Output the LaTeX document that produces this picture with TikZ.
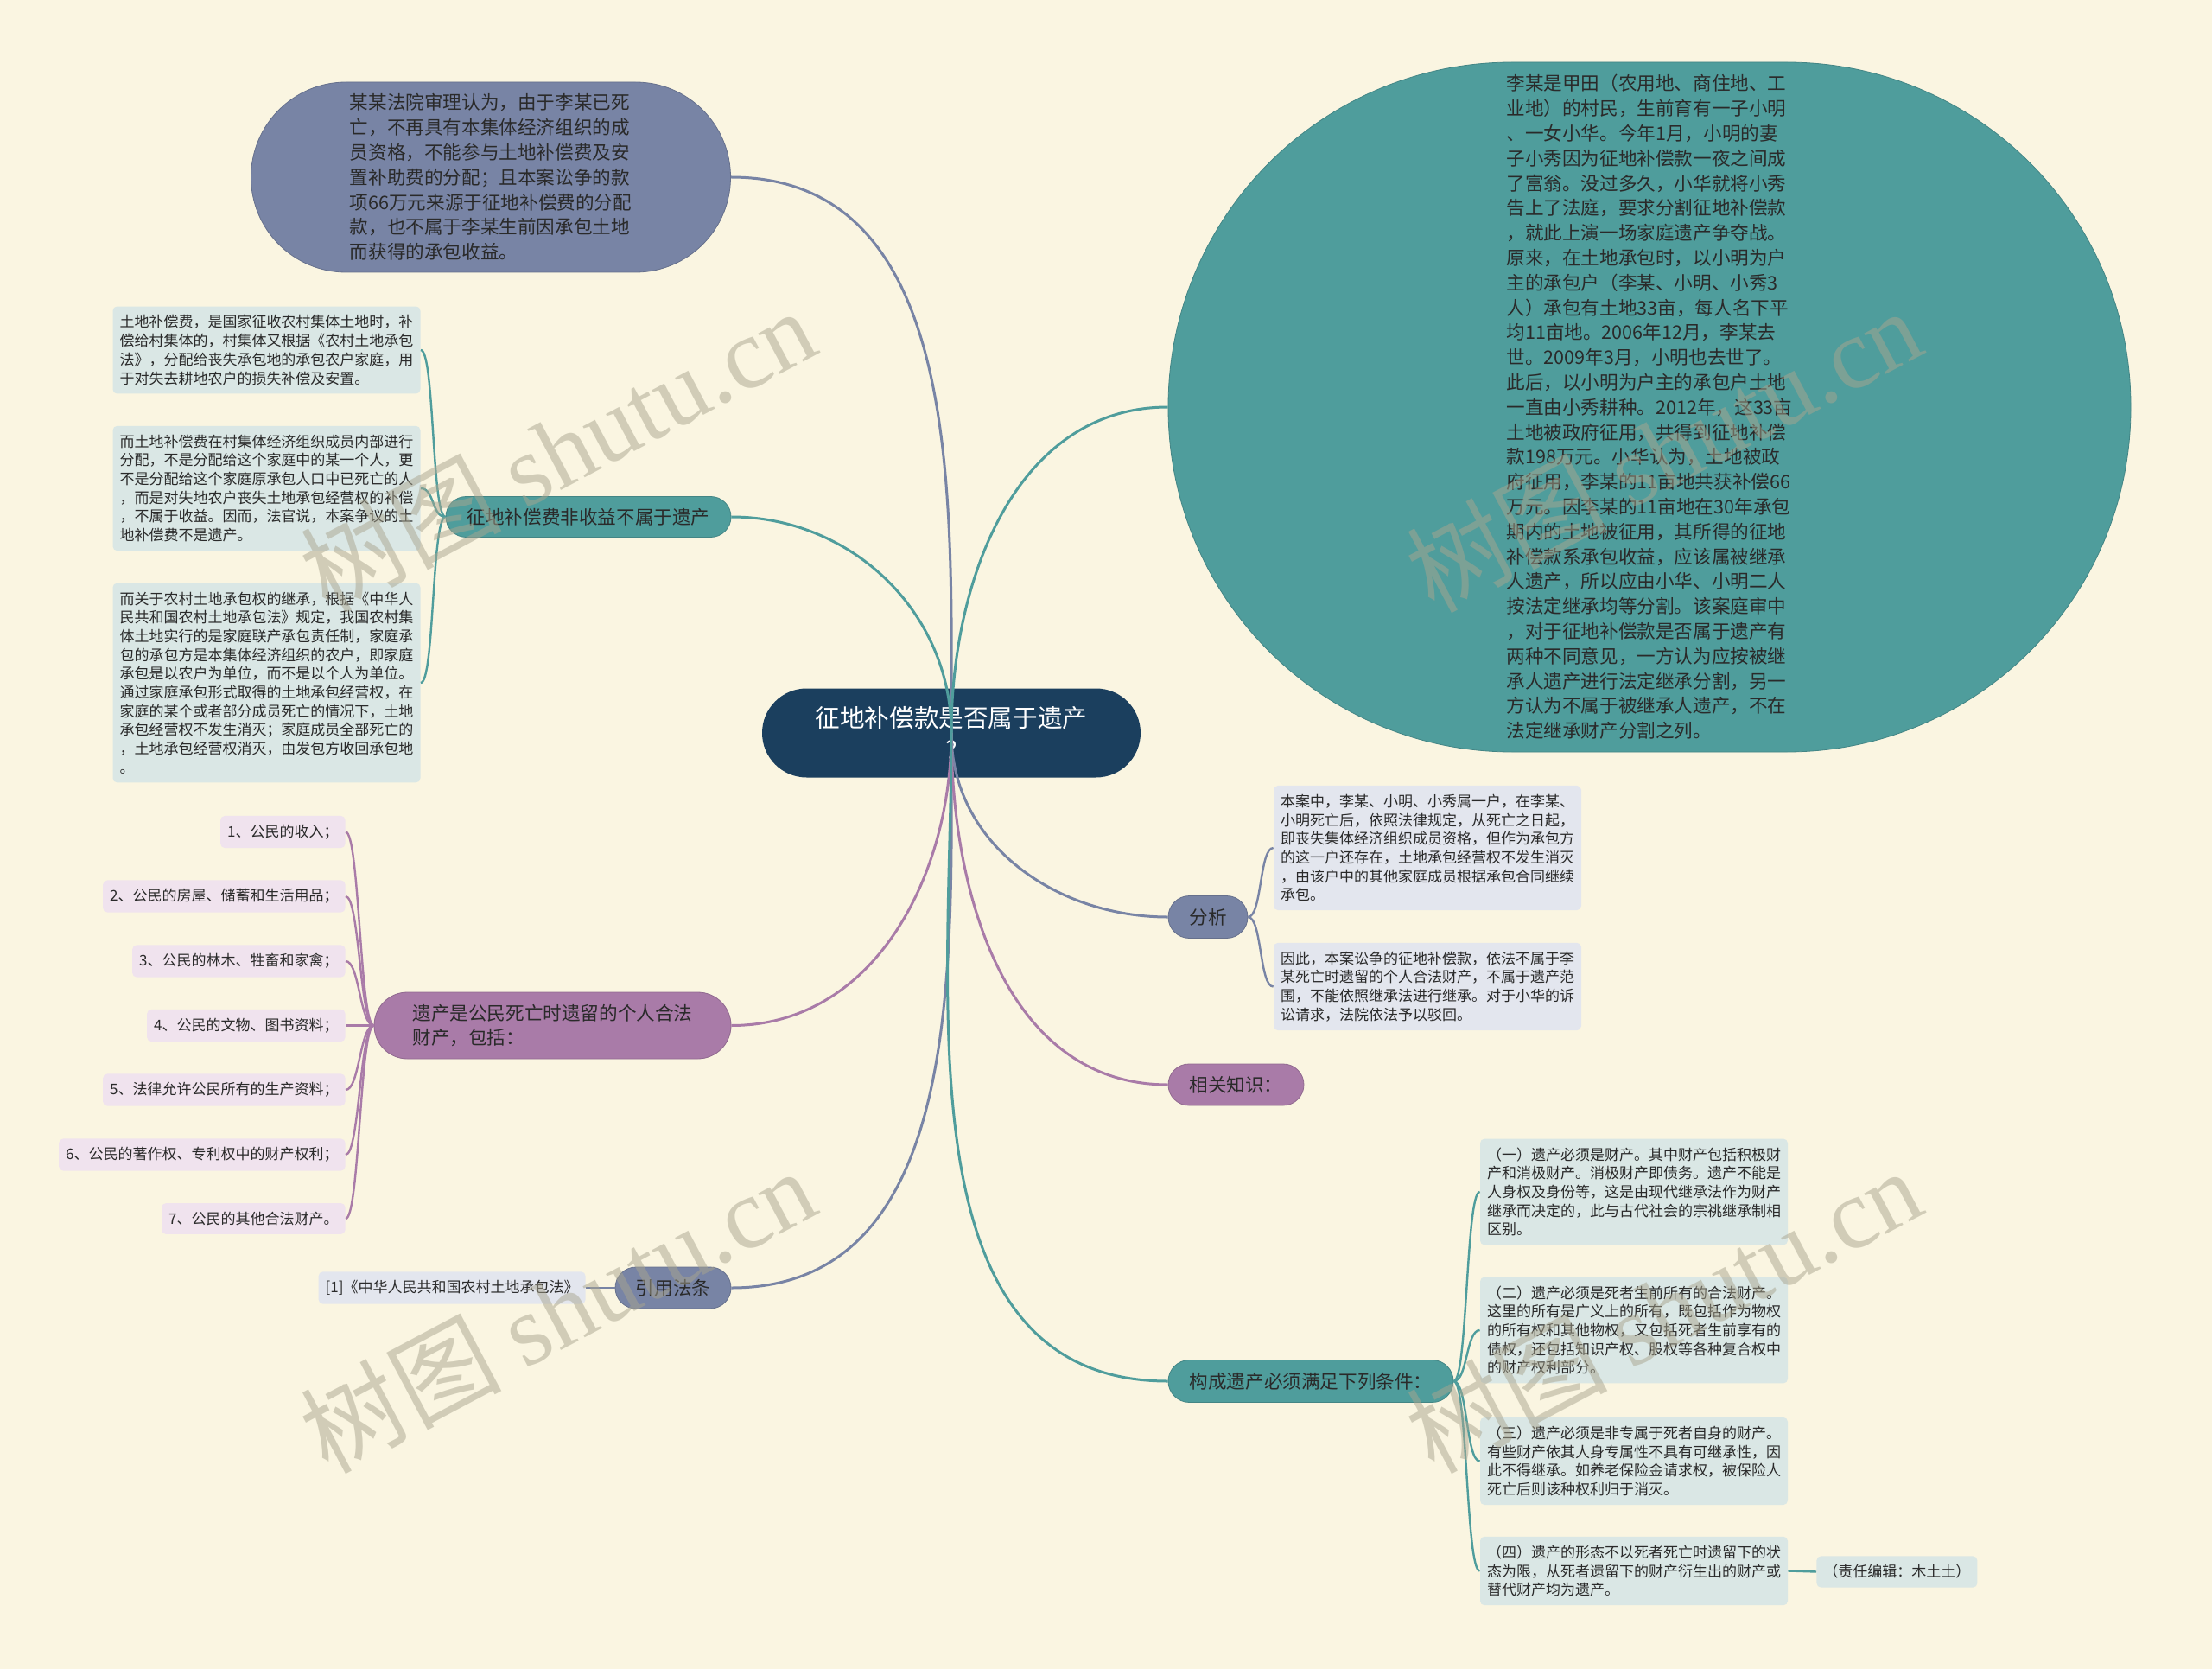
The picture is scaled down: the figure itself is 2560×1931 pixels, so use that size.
\documentclass[tikz,border=0pt]{standalone}
\usepackage{fontspec}
\setmainfont{Noto Sans CJK SC}
\newfontfamily\wmlatin{Liberation Serif}
\usepackage{tikz}
\usetikzlibrary{shapes.misc, positioning}

\definecolor{paper}{HTML}{FAF5E1}
\definecolor{mapnavy}{HTML}{1B3F5E}
\definecolor{mapteal}{HTML}{4F9D9C}
\definecolor{mapslate}{HTML}{7884A5}
\definecolor{mapplum}{HTML}{A97BA8}
\definecolor{leafteal}{HTML}{DAE7E5}
\definecolor{leafslate}{HTML}{E3E6EE}
\definecolor{leafplum}{HTML}{F0E3EE}
\definecolor{inkdark}{HTML}{2A2A2A}
\definecolor{wmgray}{HTML}{A9A58F}

\newcommand{\topicfont}{\fontsize{14.3pt}{18.8pt}\selectfont}
\newcommand{\branchfont}{\fontsize{10.8pt}{14.4pt}\selectfont}
\newcommand{\leaffont}{\fontsize{8.5pt}{10.85pt}\selectfont}

\begin{document}
\begin{tikzpicture}[x=0.5pt,y=0.5pt,
    pill/.style={rounded rectangle, inner sep=0pt, font=\branchfont, text=inkdark, line width=0.4pt},
    tealpill/.style={pill, fill=mapteal, draw=mapteal!85!black},
    slatepill/.style={pill, fill=mapslate, draw=mapslate!85!black},
    plumpill/.style={pill, fill=mapplum, draw=mapplum!85!black},
    leaf/.style={rectangle, rounded corners=2.5pt, inner xsep=4pt, inner ysep=5pt, font=\leaffont, text=inkdark, align=left},
    trunk/.style={line width=1.5pt},
    twigL/.style={out=180, in=0, distance=8pt},
    twigR/.style={out=0, in=180, distance=8pt},
    watermark/.style={font=\fontsize{58pt}{58pt}\selectfont, text=wmgray, opacity=0.5, rotate=28}]

        % 1. Paper
        \useasboundingbox (0,0) rectangle (2560,-1931);
        \fill[paper] (0,0) rectangle (2560,-1931);

        % 2. Central topic
        \node[rounded rectangle, fill=mapnavy, text=white, font=\topicfont, align=center,
              minimum width=219pt, minimum height=51.5pt, inner sep=0pt] (ctr) at (1101,-848)
              {征地补偿款是否属于遗产\\?};

        % 3. Upper nodes
        \node[slatepill, align=left, minimum width=277.5pt, minimum height=110pt] (court) at (568,-205) {%
            某某法院审理认为，由于李某已死\\
            亡，不再具有本集体经济组织的成\\
            员资格，不能参与土地补偿费及安\\
            置补助费的分配；且本案讼争的款\\
            项66万元来源于征地补偿费的分配\\
            款，也不属于李某生前因承包土地\\
            而获得的承包收益。};

        \node[rectangle, rounded corners=199pt, fill=mapteal, draw=mapteal!85!black, line width=0.4pt,
              font=\branchfont, text=inkdark, align=left, inner sep=0pt,
              minimum width=557pt, minimum height=399pt] (story) at (1909,-471) {%
            李某是甲田（农用地、商住地、工\\
            业地）的村民，生前育有一子小明\\
            、一女小华。今年1月，小明的妻\\
            子小秀因为征地补偿款一夜之间成\\
            了富翁。没过多久，小华就将小秀\\
            告上了法庭，要求分割征地补偿款\\
            ，就此上演一场家庭遗产争夺战。\\
            原来，在土地承包时，以小明为户\\
            主的承包户（李某、小明、小秀3\\
            人）承包有土地33亩，每人名下平\\
            均11亩地。2006年12月，李某去\\
            世。2009年3月，小明也去世了。\\
            此后，以小明为户主的承包户土地\\
            一直由小秀耕种。2012年，这33亩\\
            土地被政府征用，共得到征地补偿\\
            款198万元。小华认为，土地被政\\
            府征用，李某的11亩地共获补偿66\\
            万元。因李某的11亩地在30年承包\\
            期内的土地被征用，其所得的征地\\
            补偿款系承包收益，应该属被继承\\
            人遗产，所以应由小华、小明二人\\
            按法定继承均等分割。该案庭审中\\
            ，对于征地补偿款是否属于遗产有\\
            两种不同意见，一方认为应按被继\\
            承人遗产进行法定继承分割，另一\\
            方认为不属于被继承人遗产，不在\\
            法定继承财产分割之列。};

        % 4. Branch nodes
        \node[tealpill, minimum width=165pt, minimum height=23.5pt] (compfee) at (681,-598) {征地补偿费非收益不属于遗产};
        \node[plumpill, align=left, minimum width=206.5pt, minimum height=38.5pt] (estate) at (639.5,-1186.5)
            {遗产是公民死亡时遗留的个人合法\\财产，包括：};
        \node[slatepill, minimum width=67pt, minimum height=24pt] (lawref) at (779,-1490) {引用法条};
        \node[slatepill, minimum width=46pt, minimum height=24.5pt] (analysis) at (1398,-1061) {分析};
        \node[plumpill, minimum width=78.5pt, minimum height=24pt] (related) at (1430.5,-1255) {相关知识：};
        \node[tealpill, minimum width=165pt, minimum height=24.5pt] (conditions) at (1517,-1598) {构成遗产必须满足下列条件：};

        % 5. Leaves of the compensation branch
        \node[leaf, fill=leafteal, text width=170pt] (fee1) at (308.5,-405) {%
            土地补偿费，是国家征收农村集体土地时，补\\
            偿给村集体的，村集体又根据《农村土地承包\\
            法》，分配给丧失承包地的承包农户家庭，用\\
            于对失去耕地农户的损失补偿及安置。};
        \node[leaf, fill=leafteal, text width=170pt] (fee2) at (308.5,-565) {%
            而土地补偿费在村集体经济组织成员内部进行\\
            分配，不是分配给这个家庭中的某一个人，更\\
            不是分配给这个家庭原承包人口中已死亡的人\\
            ，而是对失地农户丧失土地承包经营权的补偿\\
            ，不属于收益。因而，法官说，本案争议的土\\
            地补偿费不是遗产。};
        \node[leaf, fill=leafteal, text width=170pt] (fee3) at (308.5,-790) {%
            而关于农村土地承包权的继承，根据《中华人\\
            民共和国农村土地承包法》规定，我国农村集\\
            体土地实行的是家庭联产承包责任制，家庭承\\
            包的承包方是本集体经济组织的农户，即家庭\\
            承包是以农户为单位，而不是以个人为单位。\\
            通过家庭承包形式取得的土地承包经营权，在\\
            家庭的某个或者部分成员死亡的情况下，土地\\
            承包经营权不发生消灭；家庭成员全部死亡的\\
            ，土地承包经营权消灭，由发包方收回承包地\\
            。};

        % 6. Leaves of the estate branch
        \node[leaf, fill=leafplum, anchor=east] (item1) at (400,-962.5) {1、公民的收入；};
        \node[leaf, fill=leafplum, anchor=east] (item2) at (400,-1037) {2、公民的房屋、储蓄和生活用品；};
        \node[leaf, fill=leafplum, anchor=east] (item3) at (400,-1112) {3、公民的林木、牲畜和家禽；};
        \node[leaf, fill=leafplum, anchor=east] (item4) at (400,-1186.5) {4、公民的文物、图书资料；};
        \node[leaf, fill=leafplum, anchor=east] (item5) at (400,-1261) {5、法律允许公民所有的生产资料；};
        \node[leaf, fill=leafplum, anchor=east] (item6) at (400,-1336) {6、公民的著作权、专利权中的财产权利；};
        \node[leaf, fill=leafplum, anchor=east] (item7) at (400,-1410) {7、公民的其他合法财产。};

        % 7. Citation
        \node[leaf, fill=leafslate, anchor=east] (cite) at (678,-1490) {[1]《中华人民共和国农村土地承包法》};

        % 8. Leaves of the analysis branch
        \node[leaf, fill=leafslate, text width=170pt] (ana1) at (1652,-981) {%
            本案中，李某、小明、小秀属一户，在李某、\\
            小明死亡后，依照法律规定，从死亡之日起，\\
            即丧失集体经济组织成员资格，但作为承包方\\
            的这一户还存在，土地承包经营权不发生消灭\\
            ，由该户中的其他家庭成员根据承包合同继续\\
            承包。};
        \node[leaf, fill=leafslate, text width=170pt] (ana2) at (1652,-1141.5) {%
            因此，本案讼争的征地补偿款，依法不属于李\\
            某死亡时遗留的个人合法财产，不属于遗产范\\
            围，不能依照继承法进行继承。对于小华的诉\\
            讼请求，法院依法予以驳回。};

        % 9. Leaves of the conditions branch
        \node[leaf, fill=leafteal, text width=170pt] (cond1) at (1891,-1379) {%
            （一）遗产必须是财产。其中财产包括积极财\\
            产和消极财产。消极财产即债务。遗产不能是\\
            人身权及身份等，这是由现代继承法作为财产\\
            继承而决定的，此与古代社会的宗祧继承制相\\
            区别。};
        \node[leaf, fill=leafteal, text width=170pt] (cond2) at (1891,-1539) {%
            （二）遗产必须是死者生前所有的合法财产。\\
            这里的所有是广义上的所有，既包括作为物权\\
            的所有权和其他物权，又包括死者生前享有的\\
            债权，还包括知识产权、股权等各种复合权中\\
            的财产权利部分。};
        \node[leaf, fill=leafteal, text width=170pt] (cond3) at (1891,-1690.5) {%
            （三）遗产必须是非专属于死者自身的财产。\\
            有些财产依其人身专属性不具有可继承性，因\\
            此不得继承。如养老保险金请求权，被保险人\\
            死亡后则该种权利归于消灭。};
        \node[leaf, fill=leafteal, text width=170pt] (cond4) at (1891,-1817.5) {%
            （四）遗产的形态不以死者死亡时遗留下的状\\
            态为限，从死者遗留下的财产衍生出的财产或\\
            替代财产均为遗产。};
        \node[leaf, fill=leafteal, anchor=west] (editor) at (2102,-1818.5) {（责任编辑：木土土）};

        % 10. Trunk lines from the centre
        \draw[trunk, mapslate] (ctr.center) to[out=90,in=0] (court.east);
        \draw[trunk, mapteal] (ctr.center) to[out=90,in=180] (story.west);
        \draw[trunk, mapteal] (ctr.center) to[out=90,in=0] (compfee.east);
        \draw[trunk, mapplum] (ctr.center) to[out=-90,in=0] (estate.east);
        \draw[trunk, mapslate] (ctr.center) to[out=-90,in=0] (lawref.east);
        \draw[trunk, mapslate] (ctr.center) to[out=-90,in=180] (analysis.west);
        \draw[trunk, mapplum] (ctr.center) to[out=-90,in=180] (related.west);
        \draw[trunk, mapteal] (ctr.center) to[out=-90,in=180] (conditions.west);

        % 11. Twigs to the leaves
        \draw[line width=1.2pt, mapteal] (compfee.west) to[twigL] (fee1.east);
        \draw[line width=1.2pt, mapteal] (compfee.west) to[twigL] (fee2.east);
        \draw[line width=1.2pt, mapteal] (compfee.west) to[twigL] (fee3.east);
        \draw[line width=1.2pt, mapplum] (estate.west) to[twigL] (item1.east);
        \draw[line width=1.2pt, mapplum] (estate.west) to[twigL] (item2.east);
        \draw[line width=1.2pt, mapplum] (estate.west) to[twigL] (item3.east);
        \draw[line width=1.2pt, mapplum] (estate.west) to[twigL] (item4.east);
        \draw[line width=1.2pt, mapplum] (estate.west) to[twigL] (item5.east);
        \draw[line width=1.2pt, mapplum] (estate.west) to[twigL] (item6.east);
        \draw[line width=1.2pt, mapplum] (estate.west) to[twigL] (item7.east);
        \draw[line width=1.2pt, mapslate] (lawref.west) -- (cite.east);
        \draw[line width=1.2pt, mapslate] (analysis.east) to[twigR] (ana1.west);
        \draw[line width=1.2pt, mapslate] (analysis.east) to[twigR] (ana2.west);
        \draw[line width=1.2pt, mapteal] (conditions.east) to[twigR] (cond1.west);
        \draw[line width=1.2pt, mapteal] (conditions.east) to[twigR] (cond2.west);
        \draw[line width=1.2pt, mapteal] (conditions.east) to[twigR] (cond3.west);
        \draw[line width=1.2pt, mapteal] (conditions.east) to[twigR] (cond4.west);
        \draw[line width=1.2pt, mapteal] (cond4.east) -- (editor.west);

        % 12. Watermarks
        \node[watermark] (wm1) at (645,-520) {树图 {\wmlatin shutu.cn}};
        \node[watermark] (wm2) at (1925,-520) {树图 {\wmlatin shutu.cn}};
        \node[watermark] (wm3) at (645,-1515) {树图 {\wmlatin shutu.cn}};
        \node[watermark] (wm4) at (1925,-1515) {树图 {\wmlatin shutu.cn}};
\end{tikzpicture}
\end{document}
